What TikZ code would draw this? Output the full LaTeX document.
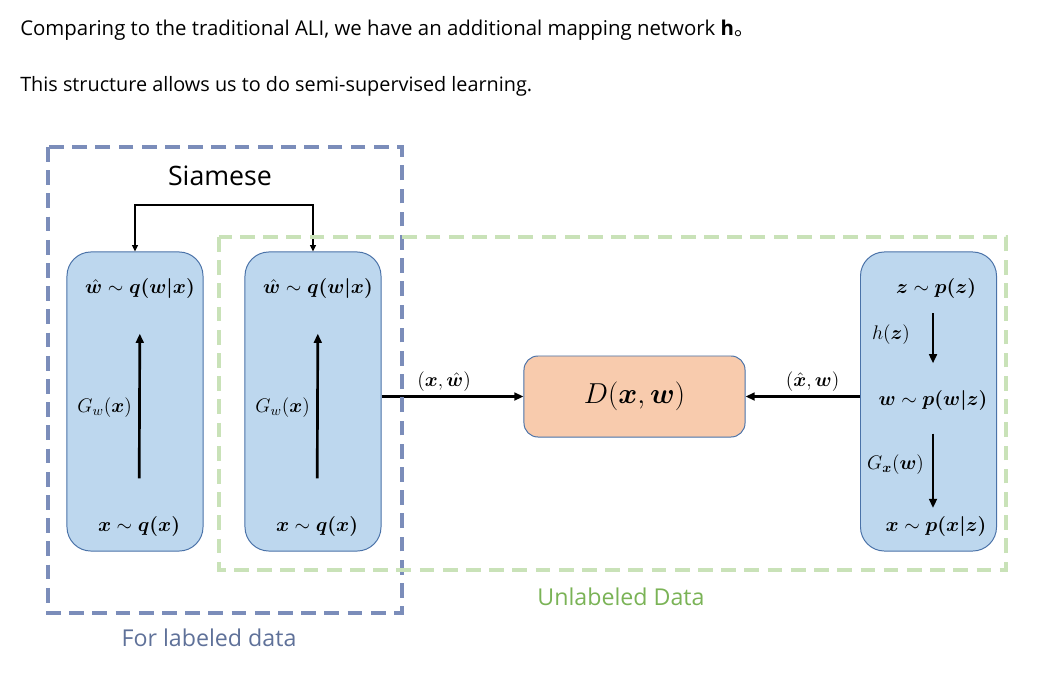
\RequirePackage{fix-cm}
\documentclass[tikz,border=0pt]{standalone}
\usepackage{amsmath,bm}
\usepackage{fontspec}
\setmainfont{Open Sans}
\newfontfamily\cjkfont{Noto Sans CJK SC}
\usetikzlibrary{arrows.meta}

\definecolor{labblue}{HTML}{7B8DBA}
\definecolor{labtext}{HTML}{5F7199}
\definecolor{unlgreen}{HTML}{C9E2B8}
\definecolor{unltext}{HTML}{7AB356}
\definecolor{boxfill}{HTML}{BDD7EE}
\definecolor{boxline}{HTML}{4A72A8}
\definecolor{dfill}{HTML}{F8CBAD}

\tikzset{
  netbox/.style={draw=boxline,fill=boxfill,line width=0.7pt,rounded corners=0.6cm,
    minimum width=3.4cm,minimum height=7.475cm},
  dbox/.style={draw=boxline,fill=dfill,line width=0.7pt,rounded corners=0.35cm,
    minimum width=5.525cm,minimum height=2.025cm,font=\fontsize{20.5}{24}\selectfont},
  dist/.style={font=\fontsize{14.2}{16}\selectfont,inner sep=1pt},
  lab/.style={font=\fontsize{14}{16}\selectfont,inner sep=1.5pt},
  region/.style={line width=2.2pt,dash pattern=on 10.5pt off 6pt}
}

\begin{document}
\begin{tikzpicture}
            [x=0.025cm,y=-0.025cm,>={Triangle[length=6.5pt,width=5.5pt]},
             flow/.style={->,line width=1.9pt},
             tie/.style={<->,line width=1.1pt,>={Triangle[length=4.5pt,width=4pt]}}]

            \useasboundingbox (0,0) rectangle (1037,696);

            % text above the picture
            \node (intro) [anchor=west,inner sep=0pt,font=\fontsize{14.5}{17}\selectfont] at (20,30)
              {Comparing to the traditional ALI, we have an additional mapping network \textbf{h}{\cjkfont 。}};
            \node (semi) [anchor=west,inner sep=0pt,font=\fontsize{14.1}{17}\selectfont] at (20,86)
              {This structure allows us to do semi-supervised learning.};

            % encoder boxes
            \node (enc1) [netbox] at (135,401.5) {};
            \node (enc2) [netbox] at (313,401.5) {};
            \node (gen)  [netbox] at (928.5,401.5) {};
            \node (disc) [dbox] at (634.5,396.5) {$D(\bm{x},\bm{w})$};

            % left encoder
            \node (w1) [dist] at (140,289) {$\bm{\hat{w}}\sim\bm{q(w|x)}$};
            \node (x1) [dist] at (139,527) {$\bm{x}\sim\bm{q(x)}$};
            \draw[flow,shorten <=0.925cm,shorten >=0.825cm] (x1) -- (w1)
              node[lab,left,midway,xshift=-3pt] {$G_w(\bm{x})$};

            % right encoder
            \node (w2) [dist] at (318,289) {$\bm{\hat{w}}\sim\bm{q(w|x)}$};
            \node (x2) [dist] at (317,527) {$\bm{x}\sim\bm{q(x)}$};
            \draw[flow,shorten <=0.925cm,shorten >=0.825cm] (x2) -- (w2)
              node[lab,left,midway,xshift=-3pt] {$G_w(\bm{x})$};

            % generator
            \node (z3) [dist] at (936,289) {$\bm{z}\sim\bm{p(z)}$};
            \node (w3) [dist] at (933,401) {$\bm{w}\sim\bm{p(w|z)}$};
            \node (x3) [dist] at (936,527) {$\bm{x}\sim\bm{p(x|z)}$};
            \draw[flow,shorten <=0.6cm,shorten >=0.65cm] (z3.center -| w3) -- (w3)
              node[lab,left,pos=0.45,xshift=-14pt] {$h(\bm{z})$};
            \draw[flow,shorten <=0.525cm,shorten >=0.475cm] (w3) -- (x3.center -| w3)
              node[lab,left,pos=0.45,xshift=-4pt] {$G_{\bm{x}}(\bm{w})$};

            % into the discriminator
            \draw[flow] (enc2.east |- disc) -- (disc.west)
              node[lab,above,midway,xshift=-6pt,yshift=1pt] {$(\bm{x},\bm{\hat{w}})$};
            \draw[flow] (gen.west |- disc) -- (disc.east)
              node[lab,above,midway,xshift=7pt,yshift=1pt] {$(\bm{\hat{x}},\bm{w})$};

            % shared weights
            \coordinate (share) at (224,205);
            \draw[tie] (enc1.north) |- (share) -| (enc2.north);

            % regions
            \draw[region,draw=labblue] (48,147) rectangle (402,613);
            \draw[region,draw=unlgreen] (219,237) rectangle (1006,570);
            \node (siam) [font=\fontsize{19}{22}\selectfont] at (220,176) {Siamese};
            \node (labd) [font=\fontsize{16.5}{19}\selectfont,text=labtext] at (209,638) {For labeled data};
            \node (unld) [font=\fontsize{16.5}{19}\selectfont,text=unltext] at (621,597) {Unlabeled Data};
        \end{tikzpicture}
\end{document}
